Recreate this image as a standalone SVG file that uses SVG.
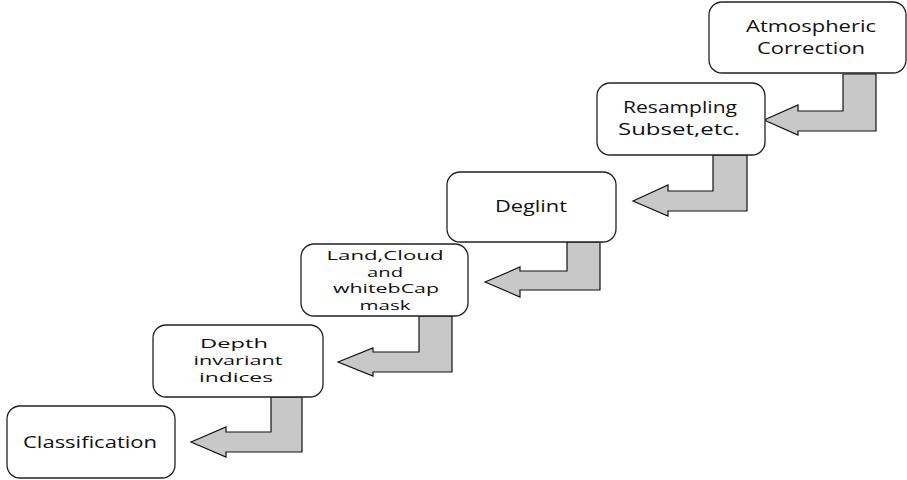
<svg xmlns="http://www.w3.org/2000/svg" width="907" height="480" viewBox="0 0 907 480">
<style>
.box{fill:#fff;stroke:#222;stroke-width:1.3}
.arr{fill:#c8c8c8;stroke:#111;stroke-width:1.2;stroke-linejoin:miter}
text{font-family:"Open Sans","Noto Sans",sans-serif;font-size:16px;fill:#111;text-anchor:middle}
.t{font-size:13px}
.s{font-size:12px}
</style>
<rect width="907" height="480" fill="#fff"/>
<g id="connectors">
<polygon class="arr" points="764,120 798,105 798,111 843,111 843,74 876,74 876,131 798,131 798,135"/>
<polygon class="arr" points="633,201 668,185 668,191 713,191 713,155 747,155 747,211 668,211 668,216"/>
<polygon class="arr" points="485,282 520,267 520,271 567,271 567,242 600,242 600,290 520,290 520,297"/>
<polygon class="arr" points="338,362 373,348 373,352 419,352 419,316 452,316 452,372 373,372 373,376"/>
<polygon class="arr" points="191,442 226,427 226,432 271,432 271,397 302,397 302,452 226,452 226,457"/>
</g>
<g id="atmospheric">
<rect class="box" x="709" y="2" width="197" height="71" rx="13"/>
<text x="811" y="32" textLength="130" lengthAdjust="spacingAndGlyphs">Atmospheric</text>
<text x="811" y="54" textLength="108" lengthAdjust="spacingAndGlyphs">Correction</text>
</g>
<g id="resampling">
<rect class="box" x="597" y="83" width="168" height="72" rx="13"/>
<text x="680" y="113" textLength="114" lengthAdjust="spacingAndGlyphs">Resampling</text>
<text x="679" y="135" textLength="122" lengthAdjust="spacingAndGlyphs">Subset,etc.</text>
</g>
<g id="deglint">
<rect class="box" x="447" y="172" width="169" height="70" rx="13"/>
<text x="531" y="212" textLength="72" lengthAdjust="spacingAndGlyphs">Deglint</text>
</g>
<g id="mask">
<rect class="box" x="301" y="244" width="167" height="72" rx="13"/>
<text class="s" x="385" y="260" textLength="117" lengthAdjust="spacingAndGlyphs">Land,Cloud</text>
<text class="s" x="385" y="277" textLength="36" lengthAdjust="spacingAndGlyphs">and</text>
<text class="s" x="386" y="293" textLength="106" lengthAdjust="spacingAndGlyphs">whitebCap</text>
<text class="s" x="385" y="310" textLength="51" lengthAdjust="spacingAndGlyphs">mask</text>
</g>
<g id="depth">
<rect class="box" x="153" y="325" width="170" height="72" rx="13"/>
<text class="t" x="234" y="348" textLength="68" lengthAdjust="spacingAndGlyphs">Depth</text>
<text class="t" x="238" y="365" textLength="89" lengthAdjust="spacingAndGlyphs">invariant</text>
<text class="t" x="236" y="382" textLength="74" lengthAdjust="spacingAndGlyphs">indices</text>
</g>
<g id="classification">
<rect class="box" x="7" y="406" width="168" height="72" rx="13"/>
<text x="90" y="448" textLength="134" lengthAdjust="spacingAndGlyphs">Classification</text>
</g>
</svg>
